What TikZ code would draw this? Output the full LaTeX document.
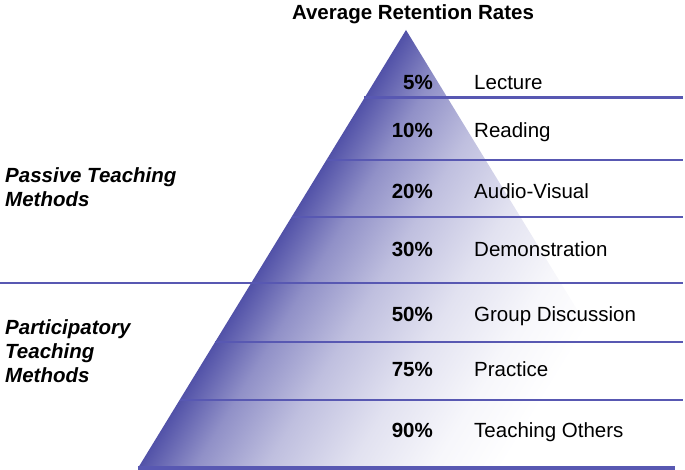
\documentclass[tikz,border=0pt]{standalone}
\usepackage{fontspec}
\setmainfont{Liberation Sans}

\definecolor{pyr}{RGB}{82,82,168}
\definecolor{linecol}{RGB}{88,88,178}
\pgfdeclarehorizontalshading{pyrfade}{100bp}{color(0bp)=(pyr); color(27bp)=(pyr); color(31.8bp)=(white!36!pyr); color(37.8bp)=(white!63!pyr); color(45bp)=(white!83!pyr); color(52bp)=(white!95!pyr); color(58bp)=(white); color(100bp)=(white)}

\begin{document}
\begin{tikzpicture}[x=1pt, y=1pt,
	band/.style = {draw=linecol, line width=2.5pt},
	pct/.style = {anchor=base east, inner sep=0, font=\bfseries\fontsize{20.5}{24}\selectfont},
	lab/.style = {anchor=base west, inner sep=0, font=\fontsize{20.5}{24}\selectfont},
	grp/.style = {anchor=base west, inner sep=0, align=left, font=\bfseries\itshape\fontsize{20.5}{24}\selectfont}
	]
	\useasboundingbox (0, 0) rectangle (685, 470);

	%Pyramid
	\coordinate	(apex)	at	(406, 440);
	\coordinate	(bl)	at	(138, 2);
	\coordinate	(br)	at	(674, 2);
	\begin{scope}
		\clip (apex) -- (bl) -- (br) -- cycle;
		\shade[shading=pyrfade, transform canvas={rotate around={-31.5:(bl)}}] (118, -698) rectangle (618, 702);
	\end{scope}

	%Lines
	\draw[band]	(364.4, 372.3)	--	(683, 372.3);
	\draw[band]	(326.5, 310)	--	(683, 310);
	\draw[band]	(291.6, 253)	--	(683, 253);
	\draw[band]	(0, 187)		--	(683, 187);
	\draw[band]	(215.1, 128)	--	(683, 128);
	\draw[band]	(179.6, 70)		--	(683, 70);
	\draw[band, line width=4pt]	(bl)	--	(675, 2);

	%Nodes
	\node[font=\bfseries\fontsize{20.5}{24}\selectfont, anchor=base, inner sep=0]	(title)	at	(413, 450)	{Average Retention Rates};

	\node[pct]	(p1)	at	(433, 380)	{5\%};
	\node[pct]	(p2)	at	(433, 332)	{10\%};
	\node[pct]	(p3)	at	(433, 271)	{20\%};
	\node[pct]	(p4)	at	(433, 213)	{30\%};
	\node[pct]	(p5)	at	(433, 148)	{50\%};
	\node[pct]	(p6)	at	(433, 93)	{75\%};
	\node[pct]	(p7)	at	(433, 32)	{90\%};

	\node[lab]	(l1)	at	(474, 380)	{Lecture};
	\node[lab]	(l2)	at	(474, 332)	{Reading};
	\node[lab]	(l3)	at	(474, 271)	{Audio-Visual};
	\node[lab]	(l4)	at	(474, 213)	{Demonstration};
	\node[lab]	(l5)	at	(474, 148)	{Group Discussion};
	\node[lab]	(l6)	at	(474, 93)	{Practice};
	\node[lab]	(l7)	at	(474, 32)	{Teaching Others};

	\node[grp]	(passive)	at	(5, 263)	{Passive Teaching\\Methods};
	\node[grp]	(partic)	at	(5, 87)	{Participatory\\Teaching\\Methods};
\end{tikzpicture}
\end{document}
